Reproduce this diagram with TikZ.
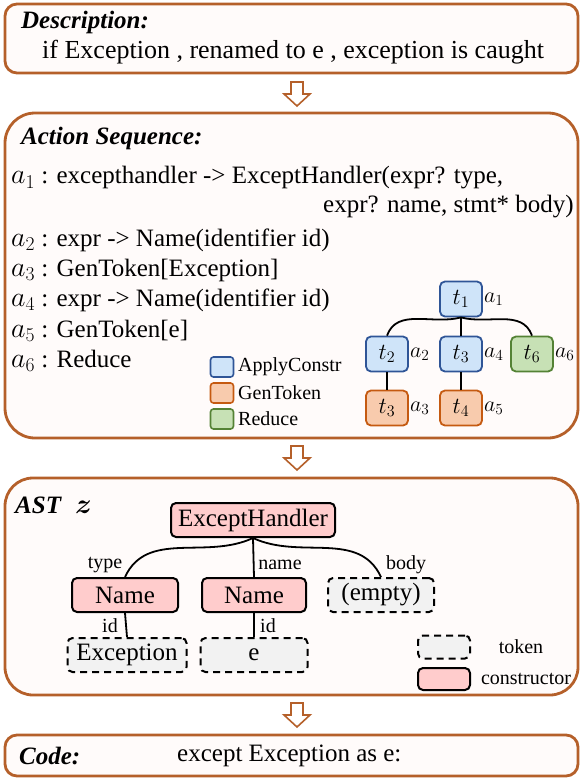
\RequirePackage{fix-cm}
\documentclass[tikz,border=0pt]{standalone}
\usepackage{amsmath}
\usepackage{amssymb}
\usepackage{bm}
\usepackage{fontspec}
\setmainfont{Liberation Serif}

\definecolor{boxbrown}{RGB}{181,96,42}
\definecolor{panelfill}{RGB}{255,251,250}
\definecolor{applyfill}{RGB}{207,228,249}
\definecolor{applydraw}{RGB}{47,85,151}
\definecolor{tokenfill}{RGB}{248,203,173}
\definecolor{tokendraw}{RGB}{197,90,17}
\definecolor{reducefill}{RGB}{199,225,181}
\definecolor{reducedraw}{RGB}{84,130,53}
\definecolor{consfill}{RGB}{255,204,204}
\definecolor{leaffill}{RGB}{242,242,242}

\newcommand{\actid}[1]{{\fontsize{28}{30}\selectfont$a_{#1}$}}

\tikzset{
  panel/.style={draw=boxbrown, line width=2.8pt, fill=panelfill},
  hollowarrow/.style={draw=boxbrown, line width=1.6pt, fill=white, line join=miter},
  txt/.style={anchor=west, inner sep=0pt, font=\fontsize{25}{28}\selectfont},
  head/.style={txt, font=\fontsize{25}{28}\selectfont\bfseries\itshape},
  small/.style={inner sep=0pt, font=\fontsize{20}{23}\selectfont},
  act/.style={label={[inner sep=1pt, font=\fontsize{22}{24}\selectfont]right:#1}},
  tnode/.style={rounded corners=5pt, line width=1.8pt, minimum width=42pt, minimum height=35pt, inner sep=0pt, font=\fontsize{23}{25}\selectfont},
  applybox/.style={tnode, draw=applydraw, fill=applyfill},
  genbox/.style={tnode, draw=tokendraw, fill=tokenfill},
  reducebox/.style={tnode, draw=reducedraw, fill=reducefill},
  keybox/.style={rounded corners=3pt, line width=1.6pt, minimum width=23pt, minimum height=20pt, inner sep=0pt},
  astnode/.style={draw=black, rounded corners=5pt, line width=2pt, minimum height=34pt, inner sep=3pt, font=\fontsize{25}{28}\selectfont},
  cons/.style={astnode, fill=consfill},
  leaf/.style={astnode, fill=leaffill, dash pattern=on 7pt off 5pt},
  tedge/.style={line width=1.8pt},
}

\begin{document}
\begin{tikzpicture}[x=1pt, y=-1pt]
\useasboundingbox (0,0) rectangle (584,780);

\draw[panel, rounded corners=12pt] (5,4) rectangle (578,73);
\draw[panel, rounded corners=30pt] (5,113) rectangle (578,438);
\draw[panel, rounded corners=28pt] (5,478) rectangle (578,695);
\draw[panel, rounded corners=12pt] (5,735) rectangle (578,776);
\foreach \y in {82,446,703}
  \draw[hollowarrow] (291,\y) -- (303,\y) -- (303,\y+12) -- (310,\y+12) -- (297,\y+24) -- (284,\y+12) -- (291,\y+12) -- cycle;

\node[head] (desctitle) at (21,22) {Description:};
\node[txt, font=\fontsize{26}{28}\selectfont] (desctext) at (42,52) {if Exception , renamed to e , exception is caught};

\node[head] (acttitle) at (21,138) {Action Sequence:};
\node[txt] (line1) at (11,178) {\actid{1} : excepthandler -> ExceptHandler(expr? type,};
\node[txt, anchor=east] (line1b) at (574,207) {expr? name, stmt* body)};
\node[txt] (line2) at (11,240) {\actid{2} : expr -> Name(identifier id)};
\node[txt] (line3) at (11,270) {\actid{3} : GenToken[Exception]};
\node[txt] (line4) at (11,300) {\actid{4} : expr -> Name(identifier id)};
\node[txt] (line5) at (11,331) {\actid{5} : GenToken[e]};
\node[txt] (line6) at (11,361) {\actid{6} : Reduce};

\node[applybox, act=$a_1$] (t1) at (461,299) {$t_1$};
\node[applybox, act=$a_2$] (t2) at (387,354) {$t_2$};
\node[applybox, act=$a_4$] (t3) at (461,354) {$t_3$};
\node[reducebox, act=$a_6$] (t6) at (532,354) {$t_6$};
\node[genbox, act=$a_3$] (t3b) at (387,408) {$t_3$};
\node[genbox, act=$a_5$] (t4) at (461,408) {$t_4$};
\draw[tedge] (t1.south) to[out=195, in=70] (t2.north);
\draw[tedge] (t1.south) -- (t3.north);
\draw[tedge] (t1.south) to[out=-15, in=110] (t6.north);
\draw[tedge] (t2.south) -- (t3b.north);
\draw[tedge] (t3.south) -- (t4.north);

\node[keybox, draw=applydraw, fill=applyfill] (keyapply) at (222,367) {};
\node[keybox, draw=tokendraw, fill=tokenfill] (keygen) at (222,393) {};
\node[keybox, draw=reducedraw, fill=reducefill] (keyreduce) at (222,419) {};
\node[small, anchor=west] (keyapplytxt) at (238,367) {ApplyConstr};
\node[small, anchor=west] (keygentxt) at (238,393) {GenToken};
\node[small, anchor=west] (keyreducetxt) at (238,419) {Reduce};

\node[head] (asttitle) at (15,505) {AST\hspace{14pt}{\fontsize{28}{30}\selectfont$\bm{z}$}};
\node[cons, minimum width=164pt] (handler) at (253,520) {ExceptHandler};
\node[cons, minimum width=106pt] (name1) at (125,595) {Name};
\node[cons, minimum width=104pt] (name2) at (254,595) {Name};
\node[leaf, minimum width=106pt] (empty) at (381,595) {(empty)};
\node[leaf, minimum width=119pt] (exc) at (127,655) {Exception};
\node[leaf, minimum width=107pt] (eleaf) at (254,655) {e};
\draw[tedge] (handler.south) to[out=205, in=65] (name1.north);
\draw[tedge] (handler.south) -- (name2.north);
\draw[tedge] (handler.south) to[out=-25, in=115] (empty.north);
\draw[tedge] (name1.south) -- (exc.north);
\draw[tedge] (name2.south) -- (eleaf.north);
\node[small] (typelbl) at (105,565) {type};
\node[small] (namelbl) at (280,565) {name};
\node[small] (bodylbl) at (406,565) {body};
\node[small] (id1lbl) at (110,626) {id};
\node[small] (id2lbl) at (268,626) {id};

\node[leaf, minimum width=52pt, minimum height=23pt, inner sep=0pt] (keytoken) at (444,647) {};
\node[cons, minimum width=52pt, minimum height=22pt, inner sep=0pt] (keycons) at (444,679) {};
\node[small] (keytokentxt) at (521,647) {token};
\node[small] (keyconstxt) at (526,679) {constructor};

\node[head] (codetitle) at (19,756) {Code:};
\node[txt] (codetext) at (177,756) {except Exception as e:};
\end{tikzpicture}
\end{document}
